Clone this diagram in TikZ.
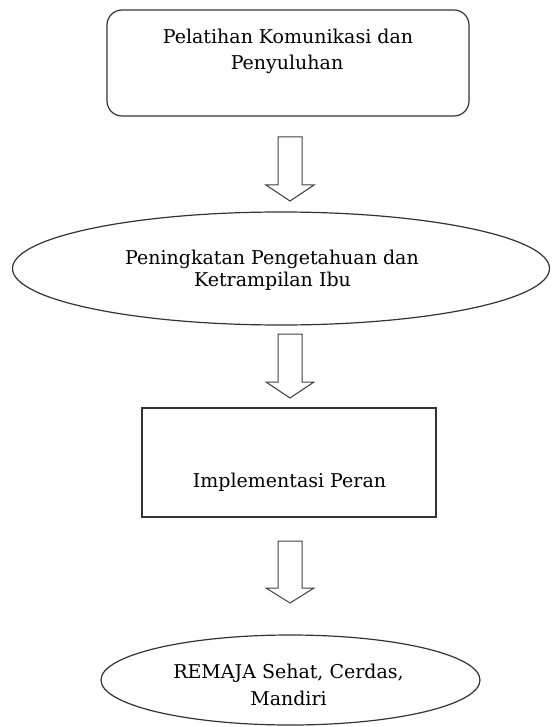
\documentclass[tikz,border=0pt]{standalone}
\usepackage{fontspec}
\setmainfont{DejaVu Serif}
\usetikzlibrary{shapes.geometric}
\begin{document}
\begin{tikzpicture}[x=1pt,y=-1pt,
  shapeline/.style={draw=black!80,line width=1.2pt},
  lbl/.style={anchor=base,inner sep=0pt,font=\fontsize{19}{22}\selectfont,text=black},
  blockarrow/.style={draw=black!75,line width=1pt,fill=white,line join=miter}]
\useasboundingbox (0,0) rectangle (551,727);
% shapes
\node[shapeline,rectangle,rounded corners=15pt,minimum width=362pt,minimum height=106pt,inner sep=0pt] (box1) at (288,63) {};
\node[shapeline,ellipse,minimum width=537pt,minimum height=113pt,inner sep=0pt] (ell1) at (281,268.5) {};
\node[shapeline,rectangle,minimum width=294pt,minimum height=109pt,inner sep=0pt] (box2) at (289,462.5) {};
\node[shapeline,ellipse,minimum width=379pt,minimum height=90pt,inner sep=0pt] (ell2) at (290.5,680) {};
% texts
\node[lbl] (t1a) at (288,44) {Pelatihan Komunikasi dan};
\node[lbl] (t1b) at (287,70) {Penyuluhan};
\node[lbl] (t2a) at (272,264) {Peningkatan Pengetahuan dan};
\node[lbl] (t2b) at (272.5,286) {Ketrampilan Ibu};
\node[lbl] (t3) at (289.5,487) {Implementasi Peran};
\node[lbl] (t4a) at (288.5,678) {REMAJA Sehat, Cerdas,};
\node[lbl] (t4b) at (288.5,705) {Mandiri};
% block arrows
\foreach \t/\s/\p in {137/185/201, 334/382/398, 541/588/603}{
  \draw[blockarrow] (278,\t) -- (302,\t) -- (302,\s) -- (314,\s) -- (290,\p) -- (266,\s) -- (278,\s) -- cycle;
}
\end{tikzpicture}
\end{document}
